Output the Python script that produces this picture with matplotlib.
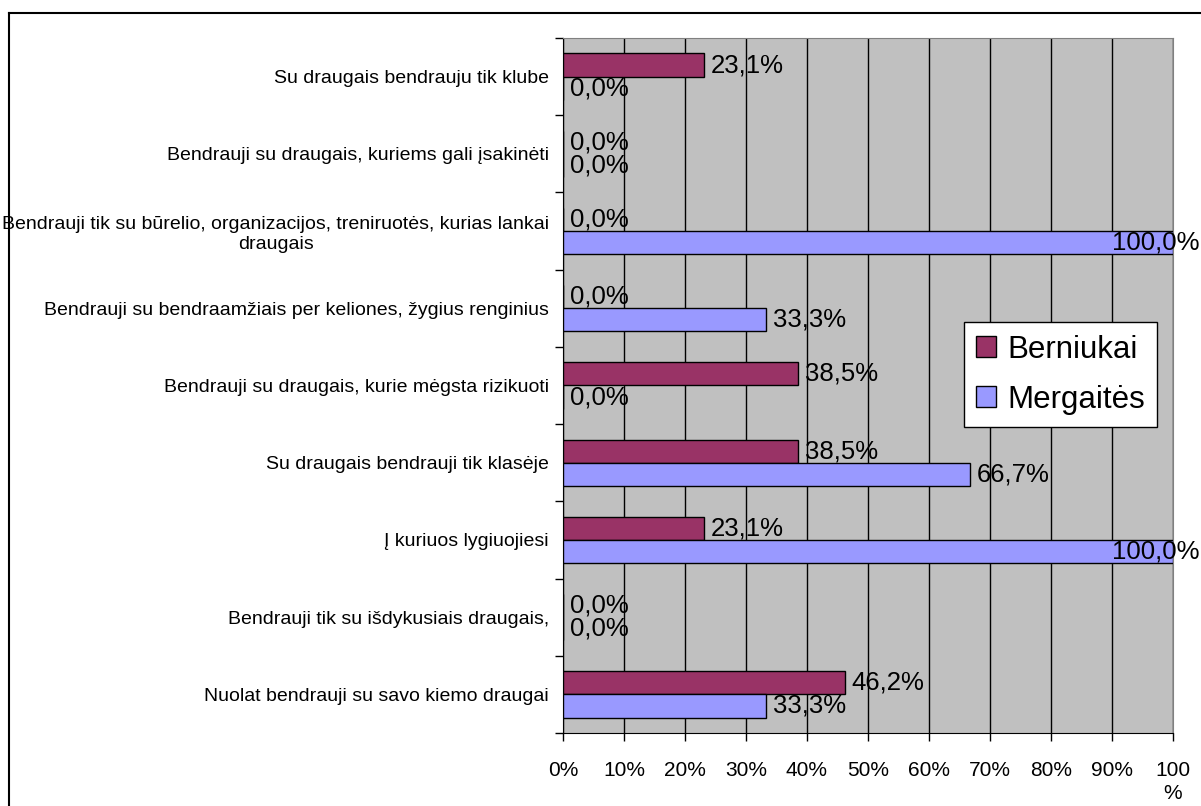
import matplotlib
matplotlib.use("Agg")
import matplotlib.pyplot as plt
from matplotlib.lines import Line2D
import numpy as np

plt.rcParams['font.family'] = ['Liberation Sans', 'DejaVu Sans']

categories = [
    "Su draugais bendrauju tik klube",
    "Bendrauji su draugais, kuriems gali įsakinėti",
    "Bendrauji tik su būrelio, organizacijos, treniruotės, kurias lankai\ndraugais",
    "Bendrauji su bendraamžiais per keliones, žygius renginius",
    "Bendrauji su draugais, kurie mėgsta rizikuoti",
    "Su draugais bendrauji tik klasėje",
    "Į kuriuos lygiuojiesi",
    "Bendrauji tik su išdykusiais draugais,",
    "Nuolat bendrauji su savo kiemo draugai",
]
berniukai = [23.1, 0.0, 0.0, 0.0, 38.5, 38.5, 23.1, 0.0, 46.2]
mergaites = [0.0, 0.0, 100.0, 33.3, 0.0, 66.7, 100.0, 0.0, 33.3]
xticks = [0, 10, 20, 30, 40, 50, 60, 70, 80, 90, 100]
xticklabels = ["0%", "10%", "20%", "30%", "40%", "50%", "60%", "70%", "80%", "90%", "100\n%"]

fig = plt.figure(figsize=(12.01, 8.06), dpi=100)
ax = fig.add_axes([563/1201, 73/806, 610/1201, 695/806])
ax.set_facecolor("#c0c0c0")

y = np.arange(len(categories))
h = 0.3
ax.barh(y - h/2, berniukai, height=h, color="#993366", edgecolor="black", lw=1, label="Berniukai", zorder=3)
ax.barh(y + h/2, mergaites, height=h, color="#9999ff", edgecolor="black", lw=1, label="Mergaitės", zorder=3)

# value labels, the 100 % ones get pushed back inside the figure
def lbl(vals, ys):
    for v, yy in zip(vals, ys):
        txt = f"{v:.1f}%".replace(".", ",")
        if v >= 100:
            ax.annotate(txt, (v, yy), xytext=(19, 0), textcoords="offset points",
                        ha="right", va="center", fontsize=18.5, zorder=5, annotation_clip=False)
        else:
            ax.annotate(txt, (v, yy), xytext=(5, 0), textcoords="offset points",
                        ha="left", va="center", fontsize=18.5, zorder=5, annotation_clip=False)

lbl(berniukai, y - h/2)
lbl(mergaites, y + h/2)

ax.set_xlim(0, 100)
ax.set_ylim(len(categories) - 0.5, -0.5)
ax.set_xticks(xticks)
ax.set_xticklabels(xticklabels, fontsize=15)
for t in ax.get_xticklabels():
    t.set_multialignment("center")
    t.set_linespacing(1.3)
ax.tick_params(axis="x", length=6, width=1, pad=14)

ax.set_yticks(y)
ax.set_yticklabels(categories, fontsize=14)
for t in ax.get_yticklabels():
    t.set_multialignment("center")
ax.set_yticks(np.arange(len(categories) + 1) - 0.5, minor=True)
ax.tick_params(axis="y", which="major", length=0, pad=10)
ax.tick_params(axis="y", which="minor", length=6, width=1)

ax.grid(axis="x", color="black", lw=1, zorder=1)
ax.set_axisbelow(True)

for s in ["top", "right"]:
    ax.spines[s].set_color("#808080")
for s in ["left", "bottom"]:
    ax.spines[s].set_color("black")

leg = ax.legend(loc="lower left", bbox_to_anchor=(0.657, 0.440), borderaxespad=0,
                fontsize=22.5, frameon=True, fancybox=False, framealpha=1,
                handlelength=0.64, handleheight=0.64, handletextpad=0.35,
                labelspacing=0.64, borderpad=0.4)
leg.get_frame().set_edgecolor("black")
leg.get_frame().set_linewidth(1)

fig.add_artist(Line2D([9/1201, 9/1201], [0, 1 - 13/806], transform=fig.transFigure, color="black", lw=1.5))
fig.add_artist(Line2D([9/1201, 1], [1 - 13/806, 1 - 13/806], transform=fig.transFigure, color="black", lw=1.5))

fig.savefig("out.png", dpi=100, facecolor="white")
